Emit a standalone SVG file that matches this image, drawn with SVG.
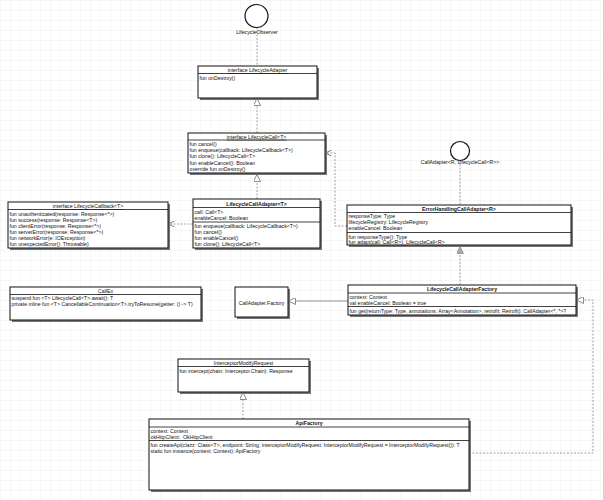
<svg xmlns="http://www.w3.org/2000/svg" width="603" height="500" viewBox="0 0 603 500">
<defs>
<pattern id="grid" width="10" height="10" patternUnits="userSpaceOnUse">
<path d="M10 0H0V10" fill="none" stroke="#e4e4e4" stroke-width="0.6"/>
</pattern>
<marker id="tri" viewBox="0 0 10 10" refX="10" refY="5" markerWidth="7" markerHeight="7" orient="auto" markerUnits="userSpaceOnUse">
<path d="M0 0L10 5L0 10Z" fill="#fff" stroke="#777" stroke-width="1.2"/>
</marker>
<marker id="trig" viewBox="0 0 10 10" refX="10" refY="5" markerWidth="9" markerHeight="7" orient="auto" markerUnits="userSpaceOnUse">
<path d="M0 0L10 5L0 10Z" fill="#aaa" stroke="#888" stroke-width="1"/>
</marker>
<marker id="open" viewBox="0 0 10 10" refX="10" refY="5" markerWidth="6" markerHeight="6" orient="auto" markerUnits="userSpaceOnUse">
<path d="M0 0L10 5L0 10" fill="none" stroke="#666" stroke-width="1.4"/>
</marker>
</defs>
<style>
text{font-family:"Liberation Sans",Arial,sans-serif;font-size:5.2px;fill:#111}
.h{text-anchor:middle}
.b{font-weight:bold}
.u{text-decoration:underline}
.box{fill:#fff;stroke:#111;stroke-width:1}
.sh{fill:#777}
.sep{stroke:#111;stroke-width:0.8}
.dash{fill:none;stroke:#888;stroke-width:0.8;stroke-dasharray:2 1.5}
.solid{fill:none;stroke:#777;stroke-width:0.8}
.lol{fill:#fff;stroke:#111;stroke-width:1.2}
</style>
<rect width="603" height="500" fill="#fff"/>
<rect width="603" height="500" fill="url(#grid)"/>

<g id="connectors">
<line class="dash" x1="257" y1="27.5" x2="257" y2="66"/>
<line class="dash" x1="460" y1="160.5" x2="460" y2="205"/>
<line class="dash" x1="257" y1="133" x2="257" y2="98.5" marker-end="url(#tri)"/>
<line class="dash" x1="257" y1="199" x2="257" y2="174.5" marker-end="url(#tri)"/>
<line class="dash" x1="193" y1="224" x2="168.5" y2="224" marker-end="url(#open)"/>
<polyline class="dash" points="347,226 335,226 335,153 325.5,153" marker-end="url(#open)"/>
<line class="dash" x1="460" y1="285" x2="460" y2="246.5" marker-end="url(#trig)"/>
<line class="solid" x1="348" y1="301" x2="288.5" y2="301" marker-end="url(#tri)"/>
<line class="dash" x1="243" y1="419" x2="243" y2="392.5" marker-end="url(#tri)"/>
<polyline class="dash" points="469,453 593,453 593,300 576.5,300" marker-end="url(#tri)"/>
</g>

<g id="LifecycleObserver">
<circle class="lol" cx="256.5" cy="16" r="11.5"/>
<text class="h" x="257" y="34">LifecycleObserver</text>
</g>

<g id="CallAdapterInterface">
<circle class="lol" cx="460" cy="151" r="9.5"/>
<text class="h" x="460" y="164">CallAdapter&lt;R, LifecycleCall&lt;R&gt;&gt;</text>
</g>

<g id="LifecycleAdapter">
<rect class="sh" x="200" y="68" width="119" height="32"/>
<rect class="box" x="198" y="66" width="119" height="32"/>
<line class="sep" x1="198" y1="73.5" x2="317" y2="73.5"/>
<text class="h u" x="257.5" y="72">interface LifecycleAdapter</text>
<text x="199.5" y="79.5">fun onDestroy()</text>
</g>

<g id="LifecycleCall">
<rect class="sh" x="190" y="135" width="137" height="40"/>
<rect class="box" x="188" y="133" width="137" height="40"/>
<line class="sep" x1="188" y1="140" x2="325" y2="140"/>
<text class="h u" x="256.5" y="138.8">interface LifecycleCall&lt;T&gt;</text>
<text x="189.5" y="145.8">fun cancel()</text>
<text x="189.5" y="152.3">fun enqueue(callback: LifecycleCallback&lt;T&gt;)</text>
<text x="189.5" y="158.3">fun clone(): LifecycleCall&lt;T&gt;</text>
<text x="189.5" y="164.5">fun enableCancel(): Boolean</text>
<text x="189.5" y="170.5">override fun onDestroy()</text>
</g>

<g id="LifecycleCallback">
<rect class="sh" x="10" y="204" width="160" height="46"/>
<rect class="box" x="8" y="202" width="160" height="46"/>
<line class="sep" x1="8" y1="209.5" x2="168" y2="209.5"/>
<text class="h u" x="88" y="208">interface LifecycleCallback&lt;T&gt;</text>
<text x="9.5" y="215.8">fun unauthenticated(response: Response&lt;*&gt;)</text>
<text x="9.5" y="221.8">fun success(response: Response&lt;T&gt;)</text>
<text x="9.5" y="227.8">fun clientError(response: Response&lt;*&gt;)</text>
<text x="9.5" y="233.8">fun serverError(response: Response&lt;*&gt;)</text>
<text x="9.5" y="239.8">fun networkError(e: IOException)</text>
<text x="9.5" y="245.8">fun unexpectedError(): Throwable)</text>
</g>

<g id="LifecycleCallAdapter">
<rect class="sh" x="195" y="201" width="127" height="49"/>
<rect class="box" x="193" y="199" width="127" height="49"/>
<line class="sep" x1="193" y1="207.5" x2="320" y2="207.5"/>
<text class="h b" x="256.5" y="205.5">LifecycleCallAdapter&lt;T&gt;</text>
<text x="194.5" y="213.8">call: Call&lt;T&gt;</text>
<text x="194.5" y="219.8">enableCancel: Boolean</text>
<line class="sep" x1="193" y1="222" x2="320" y2="222"/>
<text x="194.5" y="227.8">fun enqueue(callback: LifecycleCallback&lt;T&gt;)</text>
<text x="194.5" y="233.8">fun cancel()</text>
<text x="194.5" y="239.8">fun enableCancel()</text>
<text x="194.5" y="245.8">fun clone(): LifecycleCall&lt;T&gt;</text>
</g>

<g id="ErrorHandlingCallAdapter">
<rect class="sh" x="349" y="207" width="224" height="40"/>
<rect class="box" x="347" y="205" width="224" height="40"/>
<line class="sep" x1="347" y1="212.5" x2="571" y2="212.5"/>
<text class="h b" x="459" y="211">ErrorHandlingCallAdapter&lt;R&gt;</text>
<text x="348.5" y="217.8">responseType: Type</text>
<text x="348.5" y="223.8">lifecycleRegistry: LifecycleRegistry</text>
<text x="348.5" y="229.8">enableCancel: Boolean</text>
<line class="sep" x1="347" y1="232.5" x2="571" y2="232.5"/>
<text x="348.5" y="238.5">fun responseType(): Type</text>
<text x="348.5" y="244">fun adapt(call: Call&lt;R&gt;): LifecycleCall&lt;R&gt;</text>
</g>

<g id="CallEx">
<rect class="sh" x="12" y="289" width="191" height="33"/>
<rect class="box" x="10" y="287" width="191" height="33"/>
<line class="sep" x1="10" y1="294.5" x2="201" y2="294.5"/>
<text class="h u" x="105.5" y="293">CallEx</text>
<text x="11.5" y="300">suspend fun &lt;T&gt; LifecycleCall&lt;T&gt;.await(): T</text>
<text x="11.5" y="306">private inline fun &lt;T&gt; CancellableContinuation&lt;T&gt;.tryToResume(getter: () -&gt; T)</text>
</g>

<g id="CallAdapterFactory">
<rect class="sh" x="237" y="289" width="53" height="30"/>
<rect class="box" x="235" y="287" width="53" height="30"/>
<text class="h" x="261.5" y="304.5">CallAdapter.Factory</text>
</g>

<g id="LifecycleCallAdapterFactory">
<rect class="sh" x="350" y="287" width="228" height="30"/>
<rect class="box" x="348" y="285" width="228" height="30"/>
<line class="sep" x1="348" y1="293" x2="576" y2="293"/>
<text class="h b" x="462" y="291">LifecycleCallAdapterFactory</text>
<text x="349.5" y="298.8">context: Context</text>
<text x="349.5" y="304.8">val enableCancel: Boolean = true</text>
<line class="sep" x1="348" y1="306.5" x2="576" y2="306.5"/>
<text x="349.5" y="312.8">fun get(returnType: Type, annotations: Array&lt;Annotation&gt;, retrofit: Retrofit): CallAdapter&lt;*, *&gt;?</text>
</g>

<g id="InterceptorModifyRequest">
<rect class="sh" x="180" y="361" width="131" height="33"/>
<rect class="box" x="178" y="359" width="131" height="33"/>
<line class="sep" x1="178" y1="366.5" x2="309" y2="366.5"/>
<text class="h u" x="243.5" y="365">InterceptorModifyRequest</text>
<text x="179.5" y="372.5">fun intercept(chain: Interceptor.Chain): Response</text>
</g>

<g id="ApiFactory">
<rect class="sh" x="151" y="421" width="320" height="71"/>
<rect class="box" x="149" y="419" width="320" height="71"/>
<line class="sep" x1="149" y1="427" x2="469" y2="427"/>
<text class="h b" x="309" y="425">ApiFactory</text>
<text x="150.5" y="432.8">context: Context</text>
<text x="150.5" y="438.8" xml:space="preserve">okHttpClient:  OkHttpClient</text>
<line class="sep" x1="149" y1="440.5" x2="469" y2="440.5"/>
<text x="150.5" y="446.8">fun createApi(clazz: Class&lt;T&gt;, endpoint: String, interceptorModifyRequest: InterceptorModifyRequest = InterceptorModifyRequest()): T</text>
<text x="150.5" y="453.3">static fun instance(context: Context): ApiFactory</text>
</g>
</svg>
